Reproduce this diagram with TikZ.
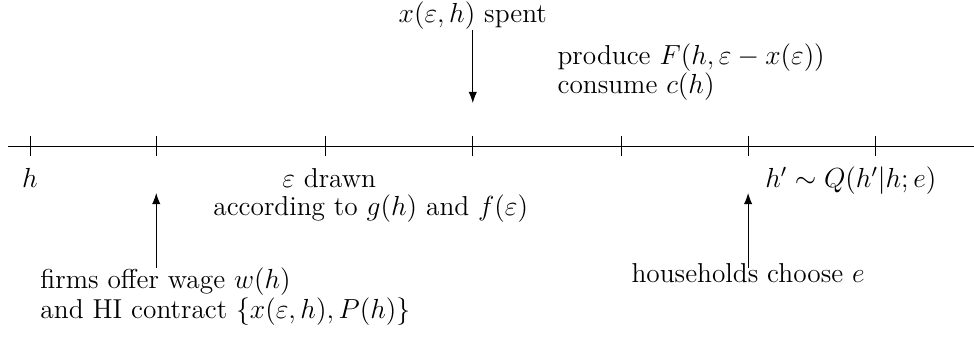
\documentclass[tikz,border=0pt]{standalone}
\usetikzlibrary{arrows.meta, positioning}

\begin{document}
\begin{tikzpicture}[
    >=Latex, % Set default arrow tip style
    font=\fontsize{11.9}{12.9}\selectfont, % Size of all texts
    timeline/.style={thin}, % Style for the time axis
    tick/.style={thin}, % Style for tick marks
    event/.style={->, thin}, % Style for the event arrows
    txt/.style={inner sep=0pt} % Style for the texts
]

    % Fix the margins
    \useasboundingbox (-0.459,-2.982) rectangle (14.434,2.232);

    % Time axis
    \draw[timeline] (-0.336,0) -- (14.434,0);

    % Ticks along the axis
    \foreach \x/\n in {0/1, 1.93/2, 4.51/3, 6.77/4, 9.04/5, 10.98/6, 12.92/7} {
        \coordinate (t\n) at (\x,0);
        \draw[tick] (\x,-0.16) -- (\x,0.16);
    }

    % Ends of the event arrows
    \coordinate (up1) at (1.93,-1.865);
    \coordinate (up1tip) at (1.93,-0.719);
    \coordinate (down) at (6.77,1.774);
    \coordinate (downtip) at (6.77,0.657);
    \coordinate (up2) at (10.98,-1.865);
    \coordinate (up2tip) at (10.98,-0.719);

    \draw[event] (up1) -- (up1tip);
    \draw[event] (down) -- (downtip);
    \draw[event] (up2) -- (up2tip);

    % Texts above the axis
    \node[txt] (spent) at (6.77,2.0) {$x(\varepsilon,h)$ spent};
    \node[txt, anchor=west, align=left] (produce) at (8.06,1.13)
        {produce $F(h,\varepsilon-x(\varepsilon))$\\consume $c(h)$};

    % Texts below the axis
    \node[txt, anchor=base] (h) at (0,-0.642) {$h$};
    \node[txt, anchor=base] (drawn) at (4.575,-0.642) {$\varepsilon$ drawn};
    \node[txt, anchor=base] (according) at (5.21,-1.06)
        {according to $g(h)$ and $f(\varepsilon)$};
    \node[txt, anchor=base] (hnext) at (12.55,-0.642) {$h'\sim Q(h'|h;e)$};
    \node[txt, anchor=base] (choose) at (10.98,-2.08) {households choose $e$};
    \node[txt, anchor=west, align=left] (firms) at (0.153,-2.3)
        {firms offer wage $w(h)$\\and HI contract $\{x(\varepsilon,h),P(h)\}$};

\end{tikzpicture}
\end{document}
